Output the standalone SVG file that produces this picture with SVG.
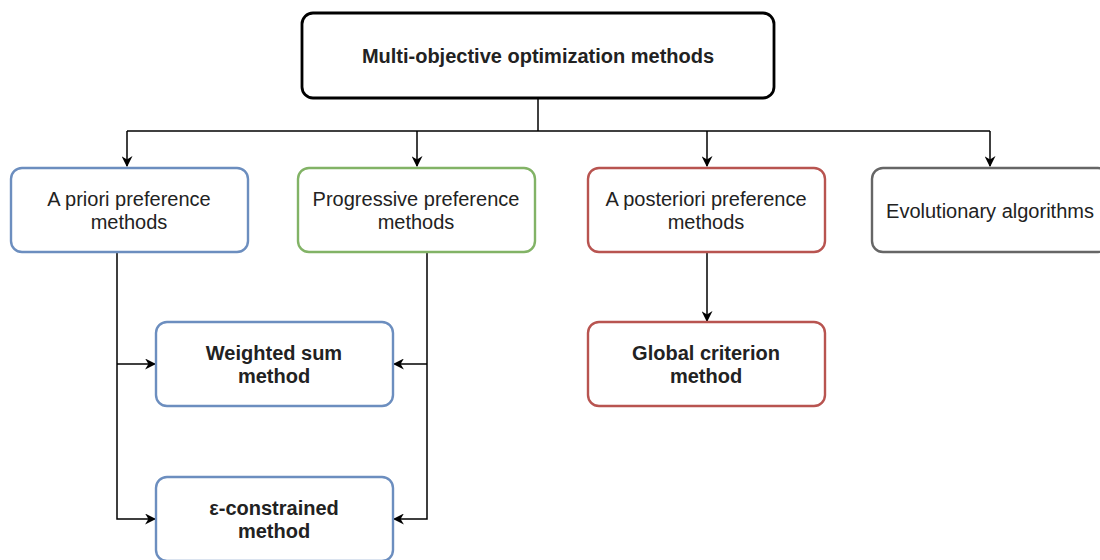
<svg xmlns="http://www.w3.org/2000/svg" width="1100" height="560" viewBox="0 0 1100 560">
  <defs>
    <marker id="arrow" viewBox="0 0 10 10" refX="9" refY="5" markerWidth="11" markerHeight="11" markerUnits="userSpaceOnUse" orient="auto">
      <path d="M0,0 L10,5 L0,10 L3,5 Z" fill="#000"/>
    </marker>
    <style>
      .box { fill: #fff; stroke-width: 2.4; }
      .root { stroke: #000; stroke-width: 2.8; }
      .blue { stroke: #6c8ebf; }
      .green { stroke: #82b366; }
      .red { stroke: #b85450; }
      .gray { stroke: #666666; }
      .edge { fill: none; stroke: #000; stroke-width: 1.5; }
      text { font-family: "Liberation Sans", Arial, sans-serif; font-size: 20px; fill: #222; text-anchor: middle; }
      .b { font-weight: bold; }
    </style>
  </defs>
  <rect width="1100" height="560" fill="#fff"/>

  <g id="connectors">
    <path class="edge" d="M538,98 V131"/>
    <path class="edge" d="M127,131 H990"/>
    <path class="edge" d="M127,131 V166" marker-end="url(#arrow)"/>
    <path class="edge" d="M417,131 V166" marker-end="url(#arrow)"/>
    <path class="edge" d="M707,131 V166" marker-end="url(#arrow)"/>
    <path class="edge" d="M990,131 V166" marker-end="url(#arrow)"/>
    <path class="edge" d="M117,252 V519 H155" marker-end="url(#arrow)"/>
    <path class="edge" d="M117,364 H155" marker-end="url(#arrow)"/>
    <path class="edge" d="M427,252 V519 H394" marker-end="url(#arrow)"/>
    <path class="edge" d="M427,364 H394" marker-end="url(#arrow)"/>
    <path class="edge" d="M707,252 V321" marker-end="url(#arrow)"/>
  </g>

  <g id="multi-objective">
    <rect class="box root" x="302" y="13" width="472" height="85" rx="11"/>
    <text class="b" x="538" y="63">Multi-objective optimization methods</text>
  </g>

  <g id="a-priori">
    <rect class="box blue" x="11" y="168" width="237" height="84" rx="11"/>
    <text x="129" y="206">A priori preference</text>
    <text x="129" y="229">methods</text>
  </g>

  <g id="progressive">
    <rect class="box green" x="298" y="168" width="237" height="84" rx="11"/>
    <text x="416" y="206">Progressive preference</text>
    <text x="416" y="229">methods</text>
  </g>

  <g id="a-posteriori">
    <rect class="box red" x="588" y="168" width="237" height="84" rx="11"/>
    <text x="706" y="206">A posteriori preference</text>
    <text x="706" y="229">methods</text>
  </g>

  <g id="evolutionary">
    <rect class="box gray" x="872" y="168" width="237" height="84" rx="11"/>
    <text x="990" y="218">Evolutionary algorithms</text>
  </g>

  <g id="weighted-sum">
    <rect class="box blue" x="156" y="322" width="237" height="84" rx="11"/>
    <text class="b" x="274" y="360">Weighted sum</text>
    <text class="b" x="274" y="383">method</text>
  </g>

  <g id="epsilon-constrained">
    <rect class="box blue" x="156" y="477" width="237" height="84" rx="11"/>
    <text class="b" x="274" y="515">ε-constrained</text>
    <text class="b" x="274" y="538">method</text>
  </g>

  <g id="global-criterion">
    <rect class="box red" x="588" y="322" width="237" height="84" rx="11"/>
    <text class="b" x="706" y="360">Global criterion</text>
    <text class="b" x="706" y="383">method</text>
  </g>
</svg>
